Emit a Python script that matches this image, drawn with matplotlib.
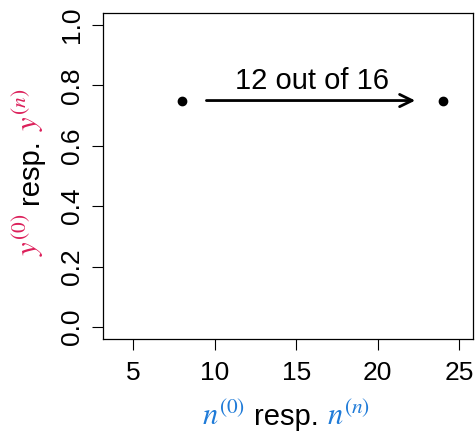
import matplotlib
matplotlib.use('Agg')
import matplotlib.pyplot as plt

plt.rcParams['font.family'] = ['Liberation Sans', 'DejaVu Sans']
plt.rcParams['mathtext.fontset'] = 'stix'

#=======Data======
x_points = [8, 24]
y_points = [0.75, 0.75]
arrow_start = (9.5, 0.75)
arrow_end = (22.3, 0.75)
arrow_text = '12 out of 16'
text_pos = (16, 0.787)
x_ticks = [5, 10, 15, 20, 25]
y_ticks = [0.0, 0.2, 0.4, 0.6, 0.8, 1.0]
x_range = (4, 25)
y_range = (0, 1)

red = '#DC1F5A'
blue = '#1F7BD8'

#=======Multi-colour axis label======
def colored_label(fig, pieces, cx, cy, rotation=0, size=21, gap=9):
    r = fig.canvas.get_renderer()
    texts = []
    widths = []
    for s, c, fs in pieces:
        t = fig.text(0, 0, s, color=c, fontsize=fs, rotation=rotation,
                     rotation_mode='anchor', ha='left', va='baseline')
        bb = t.get_window_extent(r)
        texts.append(t)
        widths.append(bb.width if rotation == 0 else bb.height)
    total = sum(widths) + gap * (len(pieces) - 1)
    W, H = fig.bbox.width, fig.bbox.height
    if rotation == 0:
        pos = cx - total / 2
        for t, w in zip(texts, widths):
            t.set_position((pos / W, 1 - cy / H))
            pos += w + gap
    else:
        # vertical label grows upwards
        pos = cy + total / 2
        for t, w in zip(texts, widths):
            t.set_position((cx / W, 1 - pos / H))
            pos -= w + gap

fig = plt.figure(figsize=(4.75, 4.32), dpi=100)
ax = fig.add_axes([103 / 475, 93 / 432, 370 / 475, 326 / 432])

ax.plot(x_points, y_points, 'o', color='black', markersize=6)
ax.annotate('', xy=arrow_end, xytext=arrow_start,
            arrowprops=dict(arrowstyle='->,head_length=0.45,head_width=0.22',
                            lw=2, color='black', shrinkA=0, shrinkB=0,
                            mutation_scale=20))
ax.text(text_pos[0], text_pos[1], arrow_text, fontsize=21, ha='center', va='baseline')

dx = 0.04 * (x_range[1] - x_range[0])
dy = 0.04 * (y_range[1] - y_range[0])
ax.set_xlim(x_range[0] - dx, x_range[1] + dx)
ax.set_ylim(y_range[0] - dy, y_range[1] + dy)
ax.set_xticks(x_ticks)
ax.set_xticklabels([str(v) for v in x_ticks])
ax.set_yticks(y_ticks)
ax.set_yticklabels(['%.1f' % v for v in y_ticks], rotation=90, va='center')
ax.tick_params(direction='out', length=8, width=0.8, labelsize=19)
ax.tick_params(axis='x', pad=8)
ax.tick_params(axis='y', pad=6)
for sp in ax.spines.values():
    sp.set_linewidth(0.9)

colored_label(fig, [('$n^{(0)}$', blue, 22), ('resp.', 'black', 21), ('$n^{(n)}$', blue, 22)],
              286, 425)
colored_label(fig, [('$y^{(0)}$', red, 22), ('resp.', 'black', 21), ('$y^{(n)}$', red, 22)],
              38, 172, rotation=90)

fig.savefig('out.png', dpi=100)
